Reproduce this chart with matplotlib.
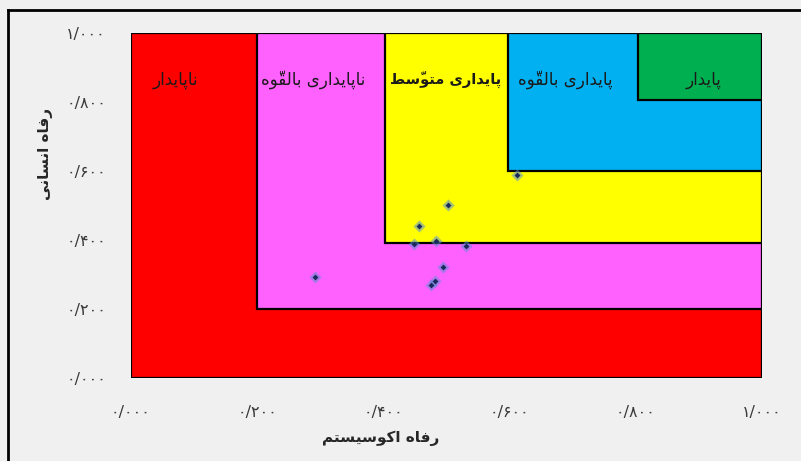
"""Barometer of sustainability: human vs ecosystem well-being"""

import matplotlib
matplotlib.use('Agg')
import matplotlib.pyplot as plt
from matplotlib.patches import Rectangle
from matplotlib.lines import Line2D

# Zone names (logical Persian text), colours and lower-left corners, all zones reach (1, 1)
zone_names = ['ناپایدار', 'ناپایداری بالقوّه', 'پایداری متوسّط', 'پایداری بالقوّه', 'پایدار']
zone_colors = ['#ff0000', '#ff61ff', '#ffff00', '#00b0f0', '#00b050']
zone_x0 = [0.0, 0.2, 0.403, 0.598, 0.803]
zone_y0 = [0.0, 0.2, 0.39, 0.599, 0.805]

# Points: ecosystem well-being (x) vs human well-being (y)
eco = [0.611, 0.502, 0.456, 0.449, 0.483, 0.531, 0.494, 0.481, 0.475, 0.292]
hum = [0.588, 0.501, 0.441, 0.388, 0.397, 0.383, 0.320, 0.279, 0.268, 0.292]

ticks = [0.0, 0.2, 0.4, 0.6, 0.8, 1.0]
tick_labels = ['۰/۰۰۰', '۰/۲۰۰', '۰/۴۰۰', '۰/۶۰۰', '۰/۸۰۰', '۱/۰۰۰']
x_title = 'رفاه اکوسیستم'
y_title = 'رفاه انسانی'

# Presentation forms: isolated, final, initial, medial (None -> letter does not join forward)
FORMS = {
    'ا': ('\uFE8D', '\uFE8E', None, None),
    'ب': ('\uFE8F', '\uFE90', '\uFE91', '\uFE92'),
    'پ': ('\uFB56', '\uFB57', '\uFB58', '\uFB59'),
    'ت': ('\uFE95', '\uFE96', '\uFE97', '\uFE98'),
    'د': ('\uFEA9', '\uFEAA', None, None),
    'ر': ('\uFEAD', '\uFEAE', None, None),
    'س': ('\uFEB1', '\uFEB2', '\uFEB3', '\uFEB4'),
    'ط': ('\uFEC1', '\uFEC2', '\uFEC3', '\uFEC4'),
    'ف': ('\uFED1', '\uFED2', '\uFED3', '\uFED4'),
    'ق': ('\uFED5', '\uFED6', '\uFED7', '\uFED8'),
    'ک': ('\uFB8E', '\uFB8F', '\uFB90', '\uFB91'),
    'ل': ('\uFEDD', '\uFEDE', '\uFEDF', '\uFEE0'),
    'م': ('\uFEE1', '\uFEE2', '\uFEE3', '\uFEE4'),
    'ن': ('\uFEE5', '\uFEE6', '\uFEE7', '\uFEE8'),
    'ه': ('\uFEE9', '\uFEEA', '\uFEEB', '\uFEEC'),
    'و': ('\uFEED', '\uFEEE', None, None),
    'ی': ('\uFBFC', '\uFBFD', '\uFBFE', '\uFBFF'),
}
MARKS = {'\u0651'}


def shape(text: str) -> str:
    """Joins Persian letters by hand and puts them in visual (left-to-right) order"""
    letters = [i for i, c in enumerate(text) if c not in MARKS]
    out = list(text)
    for k, i in enumerate(letters):
        c = text[i]
        if c not in FORMS:
            continue
        prev = text[letters[k - 1]] if k > 0 else None
        nxt = text[letters[k + 1]] if k + 1 < len(letters) else None
        joins_prev = prev in FORMS and FORMS[prev][2] is not None
        joins_next = nxt in FORMS and FORMS[c][2] is not None
        iso, fin, ini, med = FORMS[c]
        if joins_prev and joins_next:
            out[i] = med
        elif joins_prev:
            out[i] = fin
        elif joins_next:
            out[i] = ini
        else:
            out[i] = iso
    # group base letter + marks, then reverse the clusters
    clusters = []
    for ch in out:
        if ch in MARKS and clusters:
            clusters[-1] += ch
        else:
            clusters.append(ch)
    return ''.join(reversed(clusters))


plt.rcParams['font.family'] = ['DejaVu Sans']

fig = plt.figure(figsize=(8.01, 4.61), dpi=100, facecolor='#f0f0f0')
ax = fig.add_axes([131 / 801, 83.5 / 461, 631 / 801, 344.5 / 461])
ax.set_facecolor('#f0f0f0')
ax.set_xlim(0, 1)
ax.set_ylim(0, 1)
for s in ax.spines.values():
    s.set_visible(False)

# Zones
label_x = [0.07, 0.371, 0.499, 0.689, 0.908]
label_ha = ['center', 'right', 'center', 'center', 'center']
label_w = ['normal', 'normal', 'bold', 'normal', 'normal']
label_fs = [12, 12, 10.5, 12, 12]
for i, name in enumerate(zone_names):
    rect = Rectangle((zone_x0[i], zone_y0[i]), 1 - zone_x0[i], 1 - zone_y0[i],
                     facecolor=zone_colors[i], edgecolor='black', linewidth=1.6, zorder=1 + i)
    ax.add_patch(rect)
    t = ax.text(label_x[i], 0.865, shape(name), ha=label_ha[i], va='center',
                fontsize=label_fs[i], fontweight=label_w[i], color='#1a1a1a', zorder=1 + i)
    t.set_clip_path(rect)

# Points: soft blue halo plus dark centre
ax.scatter(eco, hum, marker='D', s=38, color='#5b8fd6', alpha=0.55, linewidths=0, zorder=10)
ax.scatter(eco, hum, marker='D', s=9, color='#1b2a5c', linewidths=0, zorder=11)

ax.set_xticks(ticks)
ax.set_xticklabels(tick_labels)
ax.set_yticks(ticks)
ax.set_yticklabels(tick_labels)
ax.tick_params(length=0, labelsize=11.5, labelcolor='#3a3a3a')
ax.tick_params(axis='x', pad=20)
ax.tick_params(axis='y', pad=18)

ax.text(0.395, -0.176, shape(x_title), transform=ax.transAxes, ha='center', va='center',
        fontsize=11, fontweight='bold', color='#262626')
ax.text(-0.136, 0.65, shape(y_title), transform=ax.transAxes, ha='center', va='center',
        rotation=90, fontsize=11, fontweight='bold', color='#262626')

# Black frame at the top and left of the picture
fig.add_artist(Line2D([8 / 801, 8 / 801], [0, 1 - 10 / 461], color='black', linewidth=2))
fig.add_artist(Line2D([8 / 801, 1], [1 - 10 / 461, 1 - 10 / 461], color='black', linewidth=2))

fig.savefig('out.png', dpi=100, facecolor=fig.get_facecolor())
